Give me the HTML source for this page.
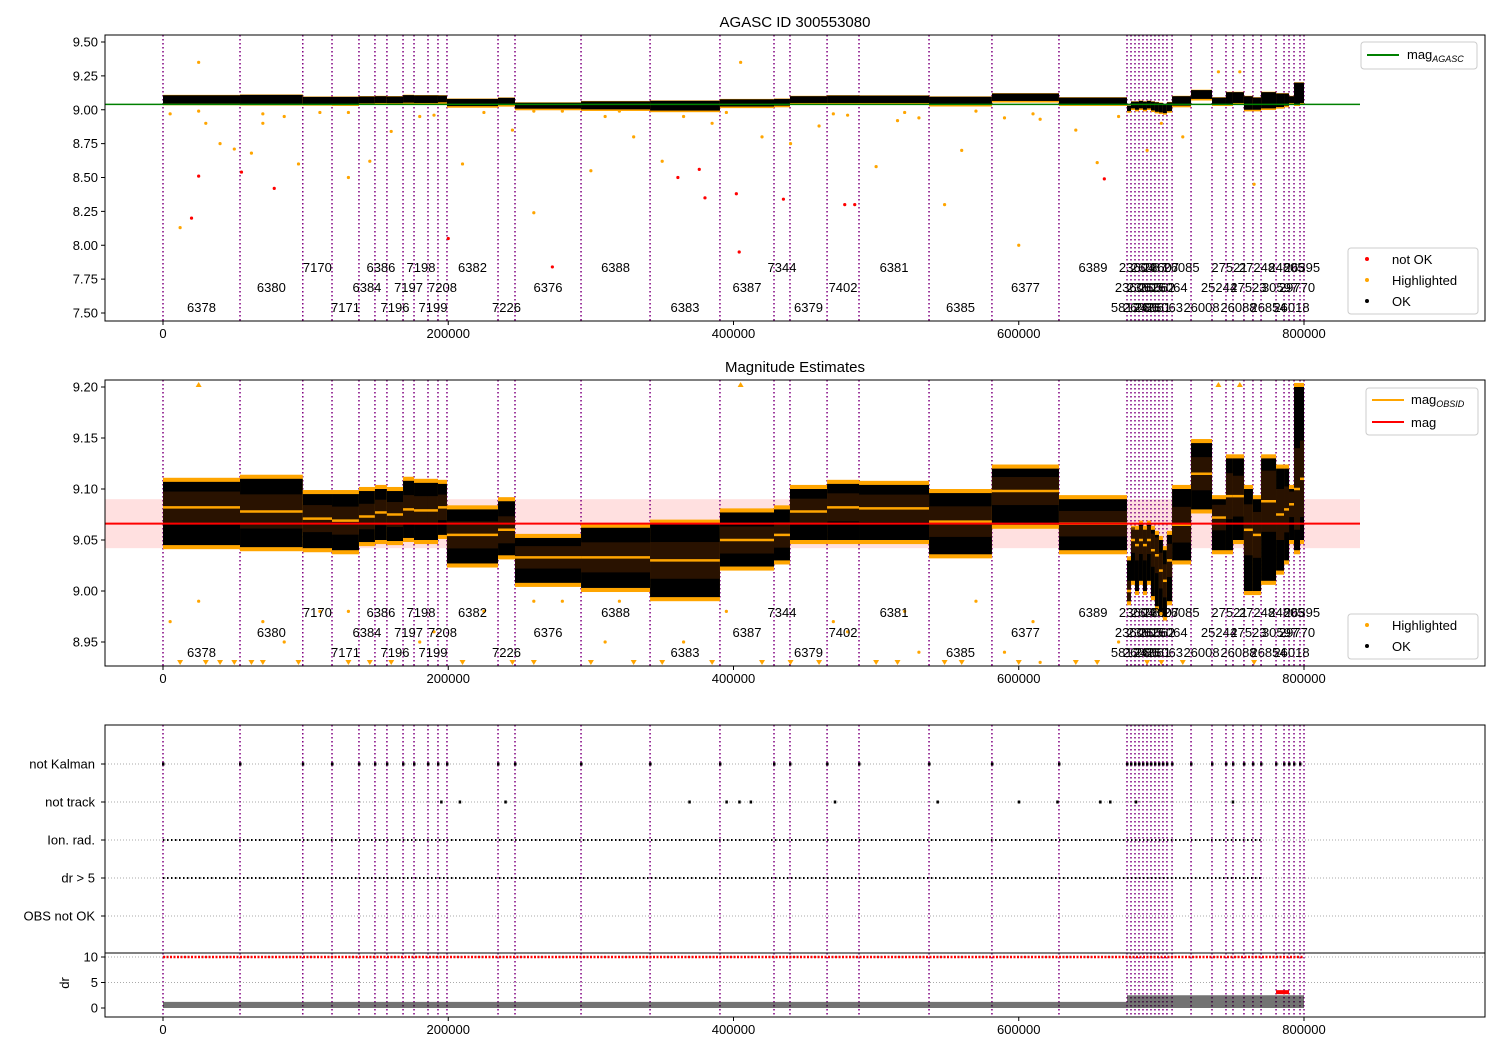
<!DOCTYPE html>
<html><head><meta charset="utf-8"><style>
body{margin:0;background:#fff}
svg{display:block;font-family:"Liberation Sans","DejaVu Sans",sans-serif}
</style></head><body>
<svg id="c" width="1500" height="1050" xmlns="http://www.w3.org/2000/svg"></svg>
<script>
// ---- data ----
const bounds=[0,54000,98000,118500,137400,148600,157000,168300,176000,185800,192800,199100,234900,246800,293100,341500,390500,428400,439600,465600,488000,537100,581200,628200,675900,678700,681500,684300,687100,689900,692700,695500,698300,701100,703900,707500,720800,735500,745300,750200,757900,764200,769900,780400,786000,789500,793000,797200,800000];
const segMean=[9.082,9.078,9.071,9.069,9.073,9.077,9.075,9.08,9.079,9.079,9.082,9.055,9.06,9.033,9.033,9.03,9.05,9.055,9.078,9.082,9.081,9.068,9.098,9.066,9.0,9.05,9.045,9.05,9.045,9.05,9.04,9.035,9.02,9.01,9.03,9.065,9.115,9.072,9.093,9.093,9.06,9.055,9.088,9.075,9.08,9.085,9.1,9.11];
const segTop=[9.107,9.11,9.095,9.095,9.098,9.1,9.098,9.108,9.106,9.106,9.105,9.08,9.088,9.052,9.062,9.066,9.077,9.08,9.1,9.105,9.104,9.096,9.12,9.09,9.03,9.06,9.06,9.065,9.06,9.065,9.06,9.055,9.05,9.04,9.055,9.1,9.145,9.09,9.13,9.13,9.1,9.09,9.13,9.12,9.12,9.1,9.2,9.2];
const segBot=[9.045,9.043,9.042,9.04,9.048,9.05,9.049,9.052,9.05,9.05,9.055,9.027,9.035,9.008,9.003,8.994,9.024,9.03,9.05,9.05,9.05,9.036,9.065,9.04,8.99,9.01,9.0,9.01,9.0,9.01,8.995,8.985,8.98,8.975,8.99,9.03,9.08,9.04,9.04,9.05,9.0,9.0,9.01,9.02,9.03,9.05,9.04,9.05];
const obsids=["6378","6380","7170","7171","6384","6386","7196","7197","7198","7199","7208","6382","7226","6376","6388","6383","6387","7344","6379","7402","6381","6385","6377","6389","58124","23606","23604","26086","23605","26087","26061","26062","23607","26063","26064","26085","26008","25244","27521","26088","27523","27248","26854","30597","24805","26018","29770","26395"];
const magAgasc=9.04, magMean=9.066, magStd=0.024;
const notOkX=[25000,20000,55000,78000,200000,273000,361000,376000,380000,402000,404000,435000,485000,478000,660000];
const notOkY=[8.51,8.2,8.54,8.42,8.05,7.84,8.5,8.56,8.35,8.38,7.95,8.34,8.3,8.3,8.49];
const orX=[5000,12000,25000,30000,40000,50000,62000,70000,85000,95000,110000,130000,145000,160000,180000,210000,225000,245000,260000,280000,300000,310000,330000,350000,365000,385000,405000,420000,440000,460000,480000,500000,515000,530000,548000,560000,590000,600000,615000,640000,655000,670000,690000,700000,715000,740000,755000,765000,25000,70000,130000,190000,260000,320000,395000,470000,520000,570000,610000];
const orY=[8.97,8.13,9.35,8.9,8.75,8.71,8.68,8.9,8.95,8.6,8.98,8.5,8.62,8.84,8.95,8.6,8.98,8.85,8.24,8.99,8.55,8.95,8.8,8.62,8.95,8.9,9.35,8.8,8.75,8.88,8.96,8.58,8.92,8.94,8.3,8.7,8.94,8.0,8.93,8.85,8.61,8.95,8.7,8.9,8.8,9.28,9.28,8.45,8.99,8.97,8.98,8.96,8.99,8.99,8.98,8.97,8.98,8.99,8.97];
const notTrackX=[195000,208000,240000,369000,395000,404000,412000,471000,543000,600000,627000,657000,664000,682000,750000];
const xTicks=[0,200000,400000,600000,800000];
const y1Ticks=[7.5,7.75,8.0,8.25,8.5,8.75,9.0,9.25,9.5];
const y2Ticks=[8.95,9.0,9.05,9.1,9.15,9.2];
const cats=["OBS not OK","dr > 5","Ion. rad.","not track","not Kalman"];
const drTicks=[0,5,10];

// ---- helpers ----
const S=document.getElementById('c'),NS='http://www.w3.org/2000/svg';
function el(t,a,p){const e=document.createElementNS(NS,t);for(const k in a)e.setAttribute(k,a[k]);(p||S).appendChild(e);return e;}
const X0=105,X1=1485;
const xs=d=>163+d*1141/800000;
const P1={t:35,b:321,y:v=>42+(9.5-v)*271/2.0,lo:7.45,hi:9.55};
const P2={t:380,b:666,y:v=>387+(9.2-v)*255/0.25,lo:8.925,hi:9.205};
const ys3=i=>916-i*38;
const ydr=v=>1008-v*5.1;

function frame(t,b,name){const r=el('rect',{x:X0,y:t,width:X1-X0,height:b-t,fill:'none',stroke:'#000','stroke-width':1});}
function xAxis(b,labels){xTicks.forEach(v=>{el('line',{x1:xs(v),x2:xs(v),y1:b,y2:b+4,stroke:'#000'});if(labels){const t=el('text',{x:xs(v),y:b+17,'font-size':13,'text-anchor':'middle'});t.textContent=v;}});}
function yAxis(ticks,f,fmt){ticks.forEach(v=>{el('line',{x1:X0-4,x2:X0,y1:f(v),y2:f(v),stroke:'#000'});const t=el('text',{x:X0-7,y:f(v)+4.5,'font-size':13,'text-anchor':'end'});t.textContent=fmt(v);});}
function vlines(t,b,g){for(let i=0;i<bounds.length;i++){el('line',{x1:xs(bounds[i]),x2:xs(bounds[i]),y1:t,y2:b,stroke:'#800080','stroke-width':1.5,'stroke-dasharray':'1.5,2.5'},g);}}
function labels(P,g){const rows=[P.b-9,P.b-29,P.b-49];for(let i=0;i<obsids.length;i++){const m=(bounds[i]+bounds[i+1])/2;const t=el('text',{x:xs(m),y:rows[i%3],'font-size':13,'text-anchor':'middle'},g);t.textContent=obsids[i];}}
function clip(id,t,b){const c=el('clipPath',{id});el('rect',{x:X0,y:t,width:X1-X0,height:b-t},c);}
clip('c1',P1.t,P1.b);clip('c2',P2.t,P2.b);clip('c3',725,1017);

// ---- panel 1 ----
let tt=el('text',{x:795,y:27,'font-size':15,'text-anchor':'middle'});tt.textContent='AGASC ID 300553080';
let g1=el('g',{'clip-path':'url(#c1)'});
vlines(P1.t,P1.b,g1);
for(let i=0;i<segMean.length;i++){const x=xs(bounds[i]),w=xs(bounds[i+1])-x;
 el('rect',{x,y:P1.y(segTop[i]+0.003),width:w,height:P1.y(segBot[i]-0.012)-P1.y(segTop[i]+0.003),fill:'#ffa500'},g1);
 const r=el('rect',{x,y:P1.y(segTop[i]),width:w,height:P1.y(segBot[i])-P1.y(segTop[i]),fill:'#000'},g1);}
orX.forEach((d,i)=>{const c=el('circle',{cx:xs(d),cy:P1.y(orY[i]),r:1.6,fill:'#ffa500'},g1);});
notOkX.forEach((d,i)=>{const c=el('circle',{cx:xs(d),cy:P1.y(notOkY[i]),r:1.6,fill:'red'},g1);});
let gl=el('line',{x1:X0,x2:1360,y1:P1.y(magAgasc),y2:P1.y(magAgasc),stroke:'green','stroke-width':1.5},g1);
labels(P1,g1);
frame(P1.t,P1.b,'agasc-axes');xAxis(P1.b,true);yAxis(y1Ticks,P1.y,v=>v.toFixed(2));
function legBox(x,y,w,h,name){const r=el('rect',{x,y,width:w,height:h,rx:3,fill:'#fff','fill-opacity':0.85,stroke:'#ccc'});}
function legText(x,y,s,sub){const t=el('text',{x,y,'font-size':13});t.textContent=s;if(sub){const ts=el('tspan',{'font-size':9,'font-style':'italic',dy:3},t);ts.textContent=sub;}}
legBox(1361,42,116,27,'legend-agasc');el('line',{x1:1367,x2:1399,y1:55,y2:55,stroke:'green','stroke-width':2});legText(1407,59,'mag','AGASC');
legBox(1348,248,130,66,'legend-points');
[['red','not OK',264],['#ffa500','Highlighted',285],['#000','OK',306]].forEach(a=>{el('circle',{cx:1367,cy:a[2]-5,r:2,fill:a[0]});legText(1392,a[2],a[1]);});

// ---- panel 2 ----
tt=el('text',{x:795,y:372,'font-size':15,'text-anchor':'middle'});tt.textContent='Magnitude Estimates';
let g2=el('g',{'clip-path':'url(#c2)'});
let band=el('rect',{x:X0,y:P2.y(magMean+magStd),width:1360-X0,height:P2.y(magMean-magStd)-P2.y(magMean+magStd),fill:'red','fill-opacity':0.12},g2);
vlines(P2.t,P2.b,g2);
for(let i=0;i<segMean.length;i++){const x=xs(bounds[i]),w=xs(bounds[i+1])-x;
 el('rect',{x,y:P2.y(segTop[i]+0.004),width:w,height:P2.y(segBot[i]-0.004)-P2.y(segTop[i]+0.004),fill:'#ffa500'},g2);
 const r=el('rect',{x,y:P2.y(segTop[i]),width:w,height:P2.y(segBot[i])-P2.y(segTop[i]),fill:'#000'},g2);
 const sd=(segTop[i]-segBot[i])*0.25;
 el('rect',{x,y:P2.y(segMean[i]+sd),width:w,height:P2.y(segMean[i]-sd)-P2.y(segMean[i]+sd),fill:'#3a1a00','fill-opacity':0.7},g2);
 const m=el('line',{x1:x,x2:x+w,y1:P2.y(segMean[i]),y2:P2.y(segMean[i]),stroke:'#ffa500','stroke-width':2.5},g2);}
orX.forEach((d,i)=>{const v=orY[i];if(v<P2.lo){const x=xs(d),y=P2.b-2;const p=el('path',{d:`M${x-3},${y-4}L${x+3},${y-4}L${x},${y+1}Z`,fill:'#ffa500'},g2);}else if(v>P2.hi){const x=xs(d),y=P2.t+3;el('path',{d:`M${x-3},${y+4}L${x+3},${y+4}L${x},${y-1}Z`,fill:'#ffa500'},g2);}else{const c=el('circle',{cx:xs(d),cy:P2.y(v),r:1.6,fill:'#ffa500'},g2);}});
let rl=el('line',{x1:X0,x2:1360,y1:P2.y(magMean),y2:P2.y(magMean),stroke:'red','stroke-width':2},g2);
labels(P2,g2);
frame(P2.t,P2.b,'estimates-axes');xAxis(P2.b,true);yAxis(y2Ticks,P2.y,v=>v.toFixed(2));
legBox(1366,388,112,47,'legend-mags');el('line',{x1:1372,x2:1404,y1:400,y2:400,stroke:'#ffa500','stroke-width':2});legText(1411,404,'mag','OBSID');el('line',{x1:1372,x2:1404,y1:422,y2:422,stroke:'red','stroke-width':2});legText(1411,427,'mag');
legBox(1348,614,130,45,'legend-points-2');
[['#ffa500','Highlighted',630],['#000','OK',651]].forEach(a=>{el('circle',{cx:1367,cy:a[2]-5,r:2,fill:a[0]});legText(1392,a[2],a[1]);});

// ---- panel 3 ----
let g3=el('g',{'clip-path':'url(#c3)'});
cats.forEach((c,i)=>{el('line',{x1:X0,x2:X1,y1:ys3(i),y2:ys3(i),stroke:'#aaa','stroke-dasharray':'1,2'},g3);const t=el('text',{x:X0-10,y:ys3(i)+4.5,'font-size':13,'text-anchor':'end'});t.textContent=c;el('line',{x1:X0-4,x2:X0,y1:ys3(i),y2:ys3(i),stroke:'#000'});});
vlines(725,1017,g3);
for(let i=0;i<bounds.length-1;i++){el('rect',{x:xs(bounds[i])-1,y:ys3(4)-1.5,width:2.5,height:3,fill:'#000'},g3);}
notTrackX.forEach(d=>{const r=el('rect',{x:xs(d)-1,y:ys3(3)-1.5,width:2.5,height:3,fill:'#000'},g3);});
[1,2].forEach(i=>{const l=el('line',{x1:xs(0),x2:xs(769900),y1:ys3(i),y2:ys3(i),stroke:'#000','stroke-width':2,'stroke-dasharray':'1.5,2.5'},g3);});
el('line',{x1:X0,x2:X1,y1:953,y2:953,stroke:'#000'});
el('line',{x1:X0,x2:X1,y1:ydr(10),y2:ydr(10),stroke:'#aaa','stroke-dasharray':'1,2'},g3);el('line',{x1:X0,x2:X1,y1:ydr(5),y2:ydr(5),stroke:'#aaa','stroke-dasharray':'1,2'},g3);
let rd=el('line',{x1:xs(0),x2:xs(800000),y1:ydr(10),y2:ydr(10),stroke:'red','stroke-width':2.5,'stroke-dasharray':'2,1.5'},g3);
for(let i=0;i<segMean.length;i++){const x=xs(bounds[i]),w=xs(bounds[i+1])-x;const hi=i>=24?2.5:1.2;const r=el('rect',{x,y:ydr(hi),width:w,height:ydr(0)-ydr(hi),fill:'#000','fill-opacity':0.55},g3);}
el('rect',{x:xs(780400),y:ydr(3.5),width:xs(789500)-xs(780400),height:4,fill:'red'},g3);
drTicks.forEach(v=>{el('line',{x1:X0-4,x2:X0,y1:ydr(v),y2:ydr(v),stroke:'#000'});const t=el('text',{x:X0-7,y:ydr(v)+4.5,'font-size':13,'text-anchor':'end'});t.textContent=v;});
let dl=el('text',{x:0,y:0,'font-size':13,'text-anchor':'middle',transform:`translate(69,983) rotate(-90)`});dl.textContent='dr';
frame(725,1017,'flags-axes');xAxis(1017,true);
</script>
</body></html>
